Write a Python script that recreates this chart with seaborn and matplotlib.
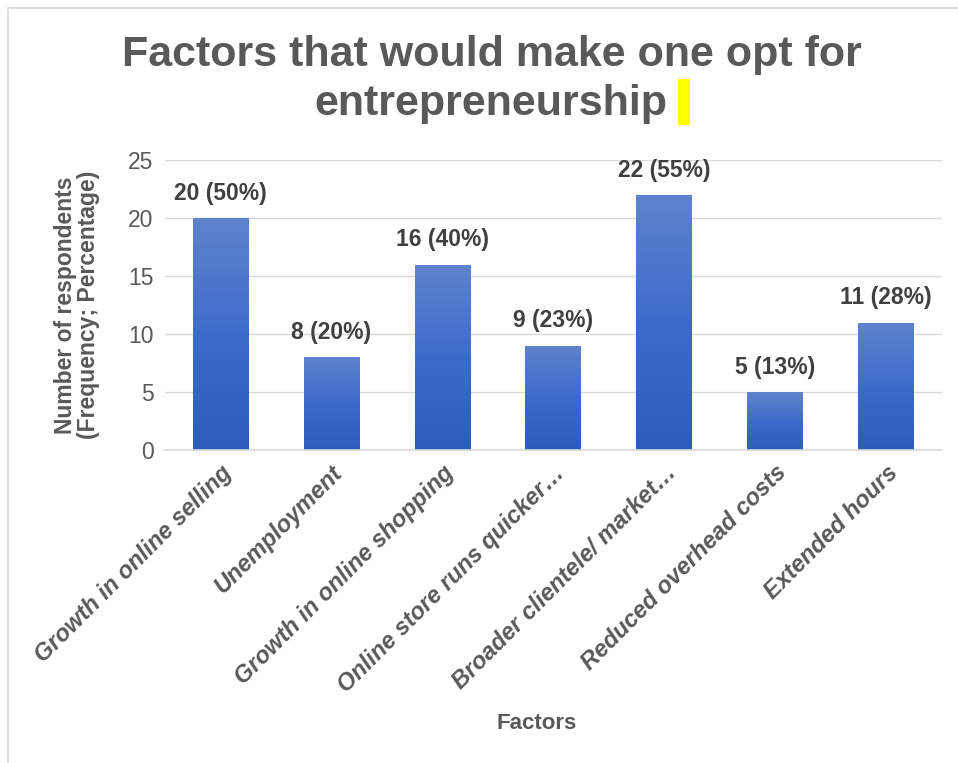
import numpy as np
import pandas as pd
import matplotlib
matplotlib.use("Agg")
import matplotlib.pyplot as plt
import seaborn as sns
from matplotlib.patches import Rectangle
from matplotlib.lines import Line2D
from matplotlib.colors import LinearSegmentedColormap

categories = ["Growth in online selling", "Unemployment", "Growth in online shopping",
              "Online store runs quicker\u2026", "Broader clientele/ market\u2026",
              "Reduced overhead costs", "Extended hours"]
counts = [20, 8, 16, 9, 22, 5, 11]
percents = [50, 20, 40, 23, 55, 13, 28]
yticks = [0, 5, 10, 15, 20, 25]

sns.set_theme(style="white")
plt.rcParams['font.family'] = ['Liberation Sans', 'DejaVu Sans']

df = pd.DataFrame({"Factor": categories, "Count": counts})

fig = plt.figure(figsize=(9.58, 7.63), dpi=100)
ax = fig.add_axes([0.172, 0.410, 0.811, 0.380])

sns.barplot(data=df, x="Factor", y="Count", ax=ax, color="#4472C4", width=0.5,
            saturation=1, edgecolor="none")

# gradient fill on bars
grad = np.linspace(0, 1, 256).reshape(-1, 1)
cmap = LinearSegmentedColormap.from_list("g", ["#2D5DBA", "#3C6CCB", "#5F83CD"])
for p in ax.patches:
    x0, y0 = p.get_x(), p.get_y()
    w, h = p.get_width(), p.get_height()
    im = ax.imshow(grad, extent=[x0, x0 + w, y0, y0 + h], origin="lower",
                   cmap=cmap, aspect="auto", zorder=p.get_zorder() + 0.1)
    im.set_clip_path(p)
ax.set_xlim(-0.5, len(categories) - 0.5)
ax.set_ylim(0, 25)
ax.set_yticks(yticks)

for i, (c, pc) in enumerate(zip(counts, percents)):
    ax.text(i, c + 1.15, f"{c} ({pc}%)", ha="center", va="bottom",
            fontsize=16.5, fontweight="bold", color="#404040")

ax.yaxis.grid(True, color="#D9D9D9", linewidth=1)
ax.set_axisbelow(True)
for s in ["top", "right", "left"]:
    ax.spines[s].set_visible(False)
ax.spines["bottom"].set_color("#D9D9D9")
ax.spines["bottom"].set_linewidth(1.2)

ax.tick_params(axis="y", labelsize=16.5, colors="#595959", length=0, pad=8)
ax.tick_params(axis="x", length=0, pad=8)
ax.set_xticks(range(len(categories)))
ax.set_xticklabels(categories, rotation=45, ha="right", rotation_mode="anchor",
                   fontsize=17, fontweight="bold", fontstyle="italic", color="#595959")

ax.set_xlabel("Factors", fontsize=16, fontweight="bold", color="#595959")
ax.set_ylabel("Number of respondents\n(Frequency; Percentage)", fontsize=16.5,
              fontweight="bold", color="#595959", linespacing=1.0)
ax.xaxis.set_label_coords(0.478, -0.905)
ax.yaxis.set_label_coords(-0.083, 0.5)

fig.text(0.513, 0.928, "Factors that would make one opt for", ha="center", va="center",
         fontsize=31, fontweight="bold", color="#595959")
fig.text(0.5125, 0.864, "entrepreneurship", ha="center", va="center",
         fontsize=31, fontweight="bold", color="#595959")
fig.patches.append(Rectangle((678 / 958, 0.836), 0.013, 0.060, transform=fig.transFigure,
                             facecolor="#FFFF00", edgecolor="none"))

fig.lines.append(Line2D([8 / 958, 8 / 958], [0, 1 - 8 / 763], transform=fig.transFigure,
                        color="#D9D9D9", linewidth=1.2))
fig.lines.append(Line2D([8 / 958, 1], [1 - 8 / 763, 1 - 8 / 763], transform=fig.transFigure,
                        color="#D9D9D9", linewidth=1.2))

fig.savefig("out.png", dpi=100)
